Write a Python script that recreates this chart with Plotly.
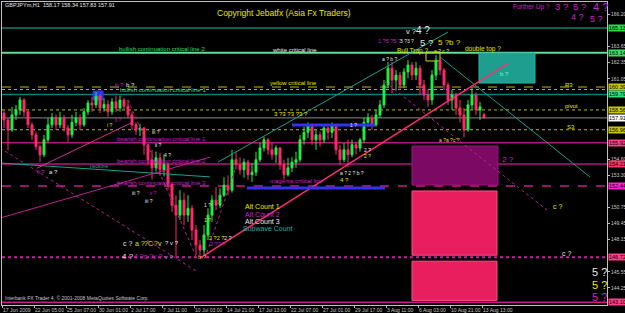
import plotly.graph_objects as go

# ---------------- data (GBPJPY H1, aggregated to 8-hour candles) ----------------
bars = list(range(121))
opens = [158.3, 157.75,156.95,158.15,158.55,159.35,158.4,157.35,156.55,155.6,
154.95,156.15,157.35,157.95,157.35,157.9,157.1,156.55,157.55,157.9,
157.35,158.4,159.1,158.95,159.65,158.7,159.0,158.4,159.2,158.7,
159.35,158.85,158.15,157.35,156.95,157.1,155.75,154.55,153.9,154.7,
153.75,154.15,152.55,150.9,150.1,151.3,150.1,150.65,148.9,147.7,
147.3,148.5,150.1,151.3,150.9,151.7,152.5,152.1,154.55,154.15,
153.75,154.35,153.35,153.55,154.55,155.5,156.15,155.35,154.95,155.5,
154.15,153.35,153.9,154.35,154.55,156.15,156.75,157.35,156.15,156.55,
156.15,157.1,156.75,157.25,155.35,154.55,155.35,154.95,155.75,155.5,
156.15,157.55,157.9,157.35,158.15,158.95,160.55,161.9,160.95,161.35,
160.55,161.6,162.15,161.35,161.9,160.55,159.75,159.35,161.35,162.55,
161.75,160.55,159.35,159.75,158.7,158.15,156.95,158.95,159.75,158.55,
158.17]
highs = [158.55,157.9,158.8,158.95,159.6,159.5,158.55,157.55,156.8,155.75,
156.55,157.9,158.3,158.2,158.4,158.15,157.35,158.15,158.4,158.2,
158.7,159.35,159.6,160.0,159.8,159.5,159.35,159.5,159.7,159.7,
159.5,159.35,158.4,157.55,157.45,157.2,155.85,155.35,155.2,155.1,
154.95,154.3,152.75,151.7,152.1,151.9,151.7,150.9,149.3,148.1,
149.3,150.65,151.7,152.35,152.25,153.15,153.3,155.35,155.2,154.75,
154.65,154.55,154.3,155.2,155.9,156.4,156.3,155.9,155.7,155.55,
154.55,154.7,154.75,155.2,156.55,157.2,157.55,157.45,156.95,156.8,
157.35,157.45,157.55,157.35,155.75,155.9,156.15,156.15,156.0,156.3,
157.9,158.3,158.15,158.55,159.35,160.95,162.4,162.4,161.75,161.6,
161.9,162.55,162.4,162.4,162.15,160.95,160.15,161.75,162.95,162.8,
161.9,160.75,160.15,159.95,159.35,158.7,159.35,160.3,159.95,159.2,
158.34]
lows = [157.1,155.3,156.8,157.75,158.15,158.0,157.1,156.15,155.35,154.35,
154.75,155.95,157.1,156.95,157.1,156.8,156.0,156.3,157.25,156.95,
157.2,158.15,158.4,158.7,158.3,158.4,158.0,158.15,158.4,158.4,
158.55,157.9,156.95,156.55,156.45,154.95,154.15,152.95,153.6,153.25,
153.2,152.15,150.35,146.7,149.7,149.3,149.55,148.1,146.9,146.7,
146.9,148.1,149.55,150.5,150.65,151.55,151.7,151.9,153.75,153.35,
153.1,152.95,152.75,153.25,154.35,155.2,154.95,154.55,154.3,153.75,
152.95,153.2,153.55,153.9,154.35,155.75,156.3,155.75,155.35,155.6,
155.9,156.15,156.3,154.95,154.15,154.35,153.95,154.75,154.95,155.2,
155.9,157.2,156.95,157.2,157.9,158.7,160.3,159.9,160.15,160.15,
160.3,161.1,160.95,160.95,159.75,159.35,158.8,158.95,160.95,161.35,
160.15,158.95,158.55,158.15,157.55,156.35,156.8,158.55,158.15,157.75,
157.83]
closes = [157.75,156.95,158.15,158.55,159.35,158.4,157.35,156.55,155.6,154.95,
156.15,157.35,157.95,157.35,157.9,157.1,156.55,157.55,157.9,157.35,
158.4,159.1,158.95,159.65,158.7,159.0,158.4,159.2,158.7,159.35,
158.85,158.15,157.35,156.95,157.1,155.75,154.55,153.9,154.7,153.75,
154.15,152.55,150.9,150.1,151.3,150.1,150.65,148.9,147.7,147.3,
148.5,150.1,151.3,150.9,151.7,152.5,152.1,154.55,154.15,153.75,
154.35,153.35,153.55,154.55,155.5,156.15,155.35,154.95,155.5,154.15,
153.35,153.9,154.35,154.55,156.15,156.75,157.35,156.15,156.55,156.15,
157.1,156.75,157.25,155.35,154.55,155.35,154.95,155.75,155.5,156.15,
157.55,157.9,157.35,158.15,158.95,160.55,161.9,160.95,161.35,160.55,
161.6,162.15,161.35,161.9,160.55,159.75,159.35,161.35,162.55,161.75,
160.55,159.35,159.75,158.7,158.15,156.95,158.95,159.75,158.55,158.8,
157.91]

date_ticks = [-0.5, 7.5, 15.5, 23.5, 31.5, 39.5, 47.5, 55.5, 63.5, 71.5,
              79.5, 87.5, 95.5, 103.5, 111.5, 119.5]
date_labels = ["17 Jun 2009", "22 Jun 05:00", "25 Jun 07:00", "30 Jun 01:00",
               "2 Jul 17:00", "7 Jul 11:00", "10 Jul 03:00", "14 Jul 21:00",
               "17 Jul 13:00", "22 Jul 07:00", "27 Jul 01:00", "29 Jul 17:00",
               "3 Aug 11:00", "6 Aug 03:00", "10 Aug 21:00", "13 Aug 13:00"]
price_ticks = [166.20, 163.65, 162.35, 161.05, 154.60, 153.30, 150.75,
               149.45, 148.15, 145.55, 144.25]

# horizontal levels
levels = [165.13, 163.14, 160.39, 160.19, 159.79, 158.55, 157.91, 156.96,
          155.92, 154.21, 152.44, 146.72, 143.10]
level_style = [("#0f7f76", 1.5, "solid"), ("#5fe08f", 2, "solid"),
               ("#b8b800", 1, "dash"), ("#b8b800", 1, "dot"),
               ("#0f7f76", 1.5, "solid"), ("#b8b800", 1, "dot"),
               ("#8a8a8a", 1, "solid"), ("#b8b800", 1, "dot"),
               ("#b0177f", 1.5, "solid"), ("#b0177f", 1.5, "solid"),
               ("#c81b8c", 1.5, "dash"), ("#d21ca0", 2, "dot"),
               ("#c81b8c", 1.5, "solid")]
level_labels = ["165.13", "163.14", "160.39", None, "159.79", "158.56",
                "157.91", "156.96", "155.92", "154.21", "152.44", "146.72",
                "143.10"]
label_bg = ["#22dd44", "#3fdc6a", "#c8c800", None, "#2ee07a", "#c8c800",
            "#ffffff", "#c8c800", "#ff3f86", "#ff3366", "#ff22dd",
            "#ff3f86", "#ff3f86"]

# trend lines: (bar0, price0, bar1, price1)
trend_x0 = [53.5, 109.0, 49.0, 95.25, -1.0, -1.0, 8.25, -1.0, 50.25, 31.0]
trend_p0 = [154.36, 162.80, 146.65, 160.80, 155.49, 149.86, 153.87, 154.29, 146.65, 159.35]
trend_x1 = [111.0, 146.5, 125.75, 135.75, 48.5, 51.5, 32.25, 51.5, 57.75, 48.0]
trend_p1 = [164.81, 153.16, 162.24, 150.51, 145.52, 154.76, 157.58, 153.17, 153.74, 146.79]
trend_style = [("#1b9e8c", 1, "solid"), ("#1b9e8c", 1, "solid"),
               ("#ff2d6f", 1.5, "solid"), ("#c01f90", 1, "dot"),
               ("#c01f90", 1, "dot"), ("#c01f90", 1, "solid"),
               ("#d02fa0", 1, "solid"), ("#1b9e8c", 1, "solid"),
               ("#c01f90", 1, "dot"), ("#c01f90", 1, "dot")]

# zones: (bar0, bar1, price_low, price_high)
zone_x0 = [118.75, 102.0, 102.0, 102.0, 22.25, 105.5]
zone_x1 = [132.75, 123.5, 123.25, 123.25, 24.75, 109.0]
zone_lo = [160.71, 152.52, 146.88, 143.25, 159.35, 162.48]
zone_hi = [163.12, 155.65, 152.04, 146.40, 160.07, 163.20]
zone_style = [("#1e9e8e", "#27b5a3"), ("#7a0a63", "#a0107f"),
              ("#e91e5f", "#ff4f8f"), ("#e91e5f", "#ff4f8f"),
              ("#3434e0", "#3434e0"), ("rgba(0,0,0,0)", "#d8d800")]

# blue support segments
seg_x0 = [72.0, 60.75]
seg_x1 = [92.75, 95.25]
seg_p = [157.34, 152.28]

# texts: (text, bar, price, color, size)
Y, M, W, G, T = "#e6e600", "#cc22cc", "#e8e8e8", "#33dd66", "#22aaaa"
texts = [
    ("GBPJPYm,H1  158.17 158.34 157.83 157.91", -0.25, 166.98, W, 5.5),
    ("Copyright Jebatfx (Asia Fx Traders)", 52.75, 166.34, Y, 8.5),
    ("Further Up ?", 126.75, 166.82, M, 6.5),
    ("3 ?", 137.25, 166.82, M, 9.5), ("5 ?", 141.75, 166.82, M, 9.5),
    ("4 ?", 146.75, 166.82, M, 11), ("4 ?", 141.25, 166.02, M, 9),
    ("5 ?", 146.0, 165.85, M, 9),
    ("v ?", 100.0, 164.85, W, 7.5), ("4 ?", 102.5, 164.93, W, 10),
    ("1 ?5 ?5 ?", 93.0, 164.07, M, 5.5), ("3 ?3 ?", 98.5, 164.07, W, 5),
    ("5 ?", 103.5, 163.97, W, 9.5), ("5 ?b ?", 108.0, 163.97, Y, 8),
    ("Bull Trap ?", 97.75, 163.28, Y, 6.5), ("a ? c ?", 107.0, 163.28, Y, 5),
    ("double top ?", 114.75, 163.45, Y, 6.5), ("a ? b ?", 94.0, 162.64, W, 5),
    ("bullish continuation critical line 2", 28.25, 163.45, G, 6),
    ("white critical line", 66.5, 163.36, W, 6),
    ("b ?", 27.25, 160.55, M, 6), ("b ?", 30.0, 160.55, W, 6),
    ("bullish continuation critical line 1", 28.5, 160.12, G, 6),
    ("yellow critical line", 66.0, 160.71, Y, 6),
    ("ii ?", 27.25, 157.75, M, 5), ("i ?", 25.25, 157.34, Y, 5),
    ("iii ?", 36.5, 156.78, W, 5),
    ("bearish continuation critical line 1", 27.75, 156.22, M, 6),
    ("ii ?", 37.25, 155.73, W, 5), ("4 ?", 39.5, 154.93, W, 5),
    ("bearish continuation critical line 2", 27.75, 154.45, M, 6),
    ("neckline", 21.0, 154.05, T, 5),
    ("ii ?", 7.75, 153.57, M, 6), ("a ?", 10.75, 153.57, W, 6),
    ("bearish continuation critical line 3", 27.75, 152.68, M, 6),
    ("magenta critical line", 66.0, 152.84, M, 6),
    ("iii ?", 31.5, 151.88, W, 5), ("ii ?", 36.0, 151.88, M, 5),
    ("iii ?", 34.75, 151.24, W, 5),
    ("c ?", 29.25, 147.86, W, 7), ("a ?", 32.25, 147.86, Y, 7),
    ("?C", 34.5, 147.86, Y, 7), ("?v", 37.0, 147.86, Y, 7),
    ("? v ?", 39.75, 147.86, W, 6),
    ("4 ?", 29.0, 146.74, W, 8), ("4 ?c ?v ?", 32.0, 146.74, M, 7),
    ("v ?", 39.75, 146.74, T, 6), ("b ?", 48.0, 146.74, "#e0a000", 6),
    ("3 ?3 ?3 ?3 ?", 67.0, 158.22, Y, 6),
    ("1 ?", 86.0, 157.34, W, 5), ("2 ?", 89.5, 155.33, W, 5),
    ("2 ?", 89.5, 154.85, Y, 5),
    ("a ? 2 ? b ?", 83.5, 153.49, W, 5), ("4 ?", 83.5, 152.92, Y, 6),
    ("Alt Count 1", 59.75, 150.76, Y, 7), ("Alt Count 2", 59.75, 150.19, M, 7),
    ("Alt Count 3", 59.75, 149.55, W, 7), ("Subwave Count", 59.25, 148.99, T, 7),
    ("1 ?", 49.5, 150.92, W, 5), ("1 ?", 49.5, 149.70, Y, 5),
    ("2 ?2 ?", 50.75, 148.30, Y, 5.5), ("2 ?", 54.5, 148.30, W, 5.5),
    ("2 ?2 ?", 51.0, 147.80, M, 5.5),
    ("a ?a ?c ?", 108.25, 156.14, Y, 5),
    ("b ?", 123.5, 161.44, "#66ffcc", 6),
    ("2 ?", 124.0, 154.53, M, 8),
    ("c ?", 136.75, 150.76, Y, 7), ("c ?", 139.0, 146.98, W, 7),
    ("5 ?", 146.5, 145.53, W, 11), ("5 ?", 146.5, 144.49, Y, 11),
    ("5 ?", 146.5, 143.53, M, 11),
    ("R3", 139.75, 160.55, Y, 6), ("pivot", 139.75, 158.87, Y, 6),
    ("S3", 140.25, 157.18, Y, 6),
    ("Interbank FX Trader 4, \u00a9 2001-2008 MetaQuotes Software Corp.", -0.25, 143.45, "#c8c8c8", 5),
]

# ---------------- figure ----------------
fig = go.Figure()
fig.add_trace(go.Candlestick(
    x=bars, open=opens, high=highs, low=lows, close=closes,
    increasing=dict(line=dict(color="#22ee44", width=1), fillcolor="#22ee44"),
    decreasing=dict(line=dict(color="#ff2a6a", width=1), fillcolor="#ff2a6a"),
    whiskerwidth=0, hoverinfo="skip", showlegend=False))

shapes = []
for z0, z1, lo, hi, (fc, lc) in zip(zone_x0, zone_x1, zone_lo, zone_hi, zone_style):
    shapes.append(dict(type="rect", xref="x", yref="y", x0=z0, x1=z1, y0=lo, y1=hi,
                       fillcolor=fc, line=dict(color=lc, width=1), layer="below"))
for lv, (c, w, d) in zip(levels, level_style):
    shapes.append(dict(type="line", xref="paper", yref="y", x0=0, x1=1, y0=lv, y1=lv,
                       line=dict(color=c, width=w, dash=d), layer="below"))
for a, b, c_, d_, (col, w, ds) in zip(trend_x0, trend_p0, trend_x1, trend_p1, trend_style):
    shapes.append(dict(type="line", xref="x", yref="y", x0=a, y0=b, x1=c_, y1=d_,
                       line=dict(color=col, width=w, dash=ds)))
for a, b, p in zip(seg_x0, seg_x1, seg_p):
    shapes.append(dict(type="line", xref="x", yref="y", x0=a, x1=b, y0=p, y1=p,
                       line=dict(color="#3333ee", width=3)))

annotations = []
for t, bx, py, col, sz in texts:
    annotations.append(dict(text=t, x=bx, y=py, xref="x", yref="y", showarrow=False,
                            xanchor="left", yanchor="middle",
                            font=dict(family="Liberation Sans, Arial", size=sz, color=col)))
for lv, lab, bg in zip(levels, level_labels, label_bg):
    if lab is None:
        continue
    annotations.append(dict(text=lab, x=1, y=lv, xref="paper", yref="y", showarrow=False,
                            xanchor="left", yanchor="middle", xshift=1, bgcolor=bg,
                            borderpad=0,
                            font=dict(family="Liberation Sans, Arial", size=5.5, color="#000000")))

fig.update_layout(
    width=625, height=313,
    margin=dict(l=2, r=18, t=2, b=8),
    paper_bgcolor="#000000", plot_bgcolor="#000000",
    shapes=shapes, annotations=annotations, showlegend=False,
    xaxis=dict(range=[-0.5, 150.75], tickvals=date_ticks, ticktext=date_labels,
               tickangle=0, automargin=False,
               ticklabelposition="outside right", ticks="outside", ticklen=2,
               tickcolor="#c0c0c0", tickfont=dict(family="Liberation Sans, Arial",
                                                  size=5, color="#c8c8c8"),
               showgrid=False, zeroline=False, showline=True, linecolor="#c0c0c0",
               linewidth=1, mirror=True, rangeslider=dict(visible=False),
               fixedrange=True),
    yaxis=dict(range=[142.88, 167.22], side="right", tickvals=price_ticks,
               automargin=False,
               ticktext=["%.2f" % v for v in price_ticks], ticks="outside", ticklen=2,
               tickcolor="#c0c0c0", tickfont=dict(family="Liberation Sans, Arial",
                                                  size=5, color="#c8c8c8"),
               showgrid=False, zeroline=False, showline=True, linecolor="#c0c0c0",
               linewidth=1, mirror=True, fixedrange=True),
)

fig.write_html("out.html")
